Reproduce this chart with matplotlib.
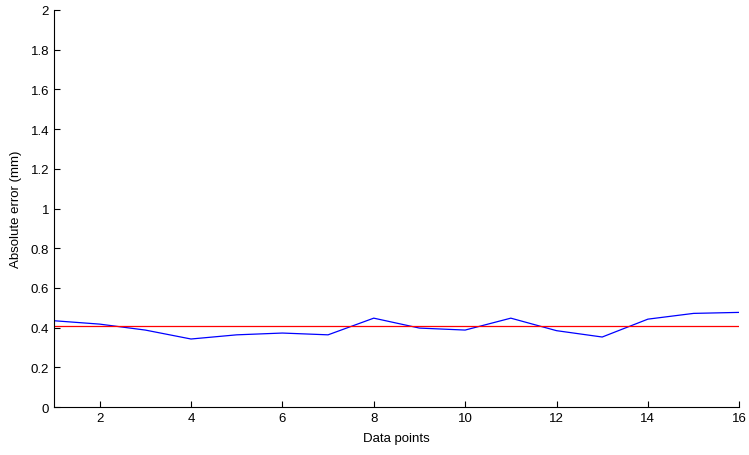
import numpy as np
import matplotlib
matplotlib.use("Agg")
import matplotlib.pyplot as plt

# data
data_points = [1, 2, 3, 4, 5, 6, 7, 8, 9, 10, 11, 12, 13, 14, 15, 16]
abs_error = [0.435, 0.418, 0.388, 0.343, 0.364, 0.373, 0.364, 0.448, 0.398, 0.388,
             0.448, 0.385, 0.353, 0.443, 0.472, 0.477]
mean_error = 0.406

x_ticks = [2, 4, 6, 8, 10, 12, 14, 16]
y_ticks = [0, 0.2, 0.4, 0.6, 0.8, 1, 1.2, 1.4, 1.6, 1.8, 2]
y_labels = ["0", "0.2", "0.4", "0.6", "0.8", "1", "1.2", "1.4", "1.6", "1.8", "2"]

plt.rcParams['font.family'] = ['Liberation Sans', 'DejaVu Sans']

fig = plt.figure(figsize=(7.49, 4.56), dpi=100)
ax = fig.add_axes([0.072, 0.105, 0.915, 0.871])

ax.plot(data_points, abs_error, color='#0000ff', linewidth=0.9)
ax.plot([data_points[0], data_points[-1]], [mean_error, mean_error], color='#ff0000', linewidth=0.9)

ax.set_xlim(1, 16)
ax.set_ylim(0, 2)
ax.set_xticks(x_ticks)
ax.set_yticks(y_ticks)
ax.set_yticklabels(y_labels)
ax.tick_params(direction='in', length=4, labelsize=9.5, width=0.8)
ax.spines['top'].set_visible(False)
ax.spines['right'].set_visible(False)
ax.set_xlabel("Data points", fontsize=9.5, labelpad=6)
ax.set_ylabel("Absolute error (mm)", fontsize=9.5, labelpad=6)

fig.savefig("out.png", dpi=100)
